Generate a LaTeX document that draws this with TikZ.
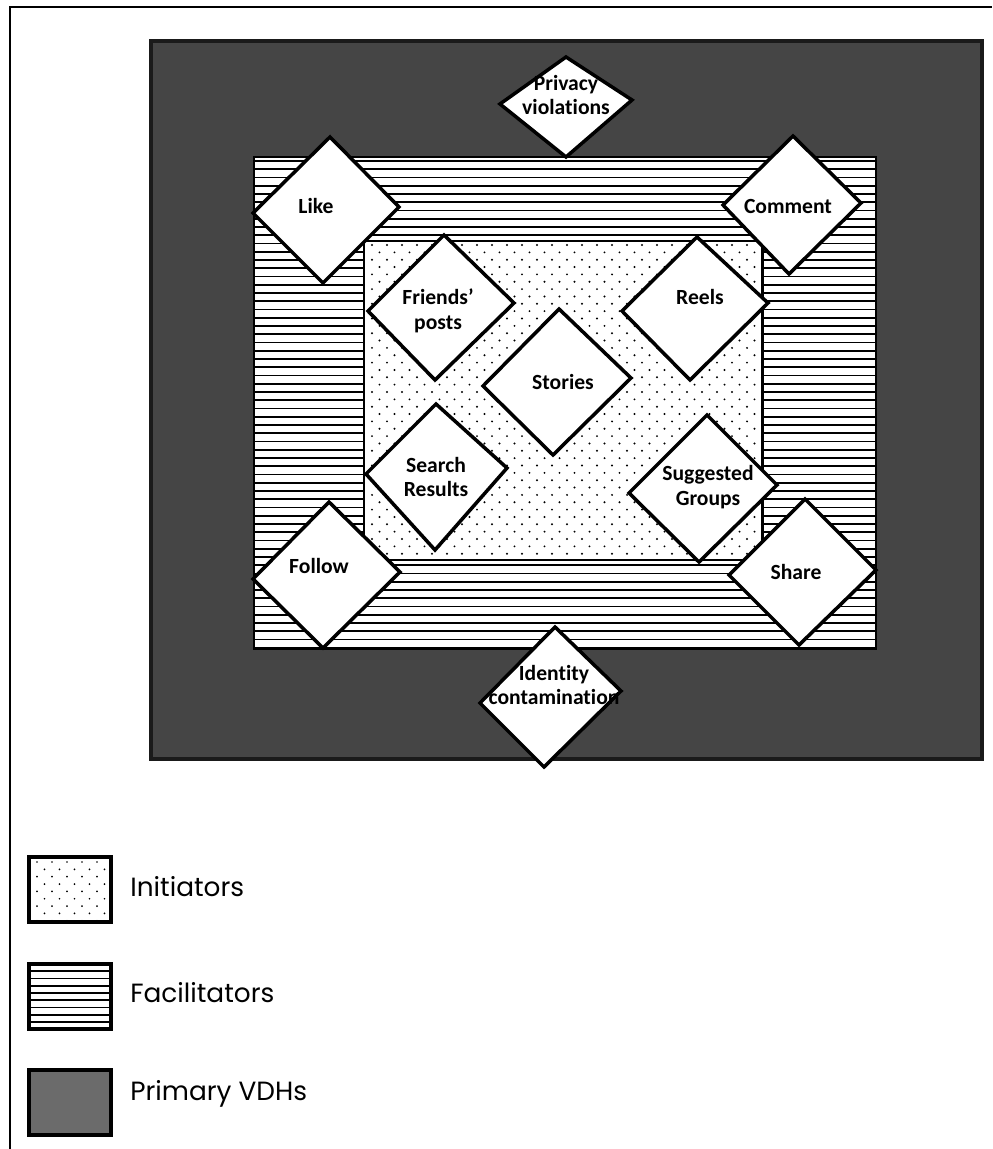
\documentclass[tikz,border=0pt]{standalone}
\usepackage{fontspec}
\setmainfont{Carlito}[Ligatures={NoCommon}]
\newfontfamily\legfont{Poppins}
\definecolor{vdhdark}{HTML}{454545}
\definecolor{vdhlegend}{HTML}{6B6B6B}
\definecolor{vdhedge}{HTML}{1A1A1A}
\tikzset{
  diab/.style={draw=black, fill=white, line width=2pt, line join=miter},
  lab/.style={font=\fontsize{12.3}{14.2}\selectfont\bfseries, align=center, inner sep=0pt},
  stripe/.style={line width=1.1pt, black},
  dotmark/.style={fill=black},
  legtext/.style={font=\legfont\fontsize{15}{18}\selectfont, anchor=west, inner sep=0pt},
  swatch/.style={draw=black, line width=1.9pt},
}
\newcommand\mydia[7]{%
  \draw[diab] (#2) -- (#3) -- (#4) -- (#5) -- cycle;
  \node[lab] (#1) at (#6) {#7};}
\begin{document}
\begin{tikzpicture}[x=0.02cm,y=-0.02cm]
\useasboundingbox (0,0) rectangle (992,1149);
% page frame (left and top edges)
\draw[line width=1pt] (10,1149) -- (10,7) -- (992,7);
% Primary VDHs region
\draw[draw=vdhedge, fill=vdhdark, line width=2.2pt] (151,41) rectangle (982,759);
% Facilitators region
\fill[white] (254,157) rectangle (876,649);
\begin{scope}
  \clip (254,157) rectangle (876,649);
  \foreach \k in {0,...,60} {
    \draw[stripe] (250,{161+\k*8.25}) -- (880,{161+\k*8.25});
  }
\end{scope}
\draw[line width=1.5pt] (254,157) rectangle (876,649);
% Initiators region
\fill[white] (364,241) rectangle (762,560);
\begin{scope}
  \clip (364,241) rectangle (762,560);
  \foreach \r in {0,...,43} {
    \foreach \c in {0,...,27} {
      \fill[dotmark] ({372+\c*15+mod(\r,2)*7.5},{245+\r*7.35}) circle (0.62pt);
    }
  }
\end{scope}
\draw[line width=1.7pt] (364,241) rectangle (762,560);
% diamonds
\mydia{privacy}{566,57}{632,100}{566,157}{500,104}{566,95}{Privacy\\violations}
\mydia{like}{330,137}{399,207}{323,283}{253,213}{316,206}{Like}
\mydia{comment}{793,136}{861,203}{789,274}{723,205}{788,206}{Comment}
\mydia{friends}{444,235}{514,303}{435,380}{368,311}{438,311}{Friends’\\posts}
\mydia{reels}{697,237}{768,303}{690,380}{622,311}{700,297}{Reels}
\mydia{stories}{559,309}{631,378}{553,455}{483,386}{563,382}{Stories}
\mydia{search}{436,404}{507,468}{435,550}{366,474}{436,477}{Search\\Results}
\mydia{suggested}{707,415}{777,485}{699,562}{629,493}{708,487}{Suggested\\Groups}
\mydia{follow}{329,502}{400,572}{323,648}{253,579}{319,566}{Follow}
\mydia{share}{805,499}{876,570}{799,645}{729,575}{796,572}{Share}
\mydia{identity}{555,627}{621,691}{544,767}{480,703}{554,685}{Identity\\contamination}
% legend
\fill[white] (29,857) rectangle (111,922);
\begin{scope}
  \clip (29,857) rectangle (111,922);
  \foreach \r in {0,...,9} {
    \foreach \c in {0,...,5} {
      \fill[dotmark] ({37+\c*15+mod(\r,2)*7.5},{862+\r*7.35}) circle (0.55pt);
    }
  }
\end{scope}
\draw[swatch] (29,857) rectangle (111,922);
\node[legtext] (initiators) at (130,887) {Initiators};
\fill[white] (29,964) rectangle (111,1029);
\foreach \k in {1,...,8} {
  \draw[stripe] (29,{964+\k*7.25}) -- (111,{964+\k*7.25});
}
\draw[swatch] (29,964) rectangle (111,1029);
\node[legtext] (facilitators) at (130,993) {Facilitators};
\draw[swatch, fill=vdhlegend] (29,1070) rectangle (111,1135);
\node[legtext] (primary) at (130,1094) {Primary VDHs};
\end{tikzpicture}
\end{document}
